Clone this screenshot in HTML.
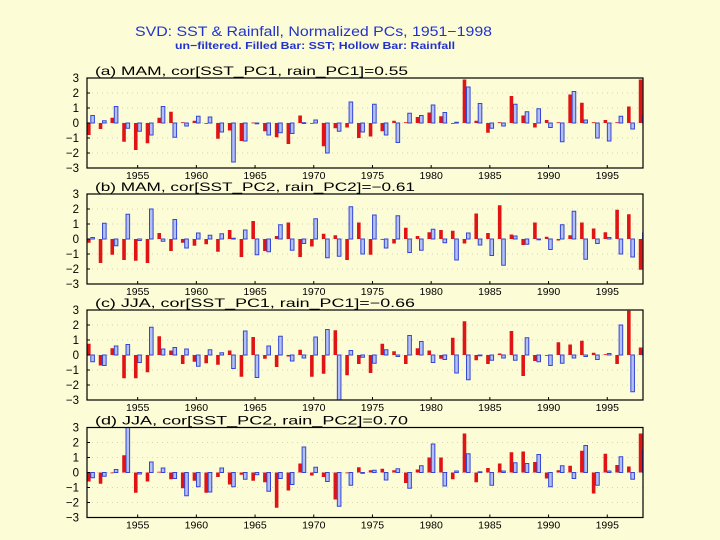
<!DOCTYPE html>
<html><head><meta charset="utf-8"><style>
html,body{margin:0;padding:0;background:#fcfcd6;}
svg{display:block;font-family:"Liberation Sans",sans-serif;}
</style></head><body>
<svg id="chart" width="720" height="540" viewBox="0 0 720 540">
<rect x="0" y="0" width="720" height="540" fill="#fcfcd6"/>
<text x="135" y="36" font-size="13.5" fill="#2233cc" textLength="357" lengthAdjust="spacingAndGlyphs">SVD: SST &amp; Rainfall, Normalized PCs, 1951−1998</text>
<text x="175" y="49" font-size="10.5" font-weight="bold" fill="#2233cc" textLength="280" lengthAdjust="spacingAndGlyphs">un−filtered. Filled Bar: SST; Hollow Bar: Rainfall</text>
<g id="panels"></g>
</svg>
<script>
const years = [];
for (let y = 1951; y <= 1998; y++) years.push(y);
const xTicks = [1955,1960,1965,1970,1975,1980,1985,1990,1995];
const yTicks = [-3,-2,-1,0,1,2,3];
const titles = [
 "(a) MAM, cor[SST_PC1, rain_PC1]=0.55",
 "(b) MAM, cor[SST_PC2, rain_PC2]=−0.61",
 "(c) JJA, cor[SST_PC1, rain_PC1]=−0.66",
 "(d) JJA, cor[SST_PC2, rain_PC2]=0.70"
];
const sstA = [-0.8,-0.4,0.35,-1.25,-1.8,-1.35,0.35,0.75,0.05,0.15,0.0,-1.05,-0.5,-1.2,0.03,-0.55,-0.95,-1.4,0.5,-0.05,-1.55,-0.35,-0.3,-1.0,-0.9,-0.55,0.15,0.05,0.4,0.7,0.45,0.0,2.9,0.15,-0.65,0.05,1.8,0.5,-0.3,0.2,0.05,1.9,1.35,0.05,0.2,0.05,1.1,2.9];
const rainA = [0.5,0.15,1.1,-0.35,-0.55,-0.8,1.1,-0.95,-0.2,0.45,0.4,-0.6,-2.6,-1.2,-0.02,-0.8,-0.65,-0.7,0.02,0.2,-2.0,-0.55,1.4,-0.6,1.25,-0.8,-1.3,0.65,0.5,1.2,0.7,0.05,2.4,1.3,-0.35,-0.2,1.25,0.75,0.95,-0.3,-1.25,2.1,0.2,-1.0,-1.2,0.45,-0.4,0.5];
const sstB = [-0.25,-1.6,-1.05,-1.4,-1.45,-1.6,0.4,-0.8,-0.25,-0.45,-0.35,-0.85,0.6,-1.2,1.2,-0.8,0.2,1.1,-1.2,-0.5,0.35,0.25,-1.4,1.1,-1.05,0.0,-0.3,0.75,0.2,0.45,0.6,0.55,-0.3,1.7,0.4,2.25,0.3,-0.4,1.1,0.15,-0.1,0.25,1.1,0.7,0.45,1.95,1.65,-2.05];
const rainB = [0.1,1.05,-0.45,1.65,-0.1,2.0,-0.15,1.3,-0.6,0.4,0.25,0.35,0.05,0.6,-1.05,-0.85,0.95,-0.75,-0.3,1.35,-1.25,-1.15,2.15,-1.0,1.6,-0.6,1.55,-0.9,-0.75,0.65,-0.25,-1.4,0.4,-0.4,-1.1,-1.75,0.2,-0.35,0.0,-0.7,0.95,1.85,-1.35,-0.3,0.1,-1.0,-1.2,0.4];
const sstC = [0.75,-0.7,0.45,-1.55,-1.55,-1.15,1.25,0.3,-0.6,-0.45,-0.55,-0.65,0.3,-1.45,1.2,-0.25,-0.8,-0.1,0.35,-1.45,-1.25,1.65,-1.35,-0.6,-1.2,0.75,0.25,-0.6,0.45,0.3,-0.25,1.15,2.25,-0.35,-0.6,0.1,1.6,-1.4,-0.4,0.0,0.85,0.7,0.95,0.15,0.05,-0.6,2.95,0.5];
const rainC = [-0.45,-0.7,0.6,0.7,-0.5,1.85,0.4,0.5,0.4,-0.75,0.35,0.15,-0.9,1.6,-1.5,0.6,1.25,-0.4,-0.2,1.2,1.7,-3.0,0.3,-0.15,-0.55,0.35,-0.1,1.3,0.9,-0.5,-0.3,-1.2,-1.65,-0.05,-0.35,-0.2,-0.35,1.15,-0.45,-0.7,-0.55,-0.2,-0.1,-0.3,0.1,2.0,-2.45,0.3];
const sstD = [-0.6,-0.75,0.0,1.15,-1.35,-0.6,0.05,-0.45,-1.05,-0.55,-1.35,-0.3,-0.8,-0.15,-0.55,-0.65,-2.35,-1.2,0.6,-0.2,-0.3,-1.8,-0.05,0.35,0.15,0.25,0.15,-0.7,0.2,1.0,1.0,-0.45,2.6,-0.65,0.3,0.6,1.35,1.4,0.7,-0.4,0.15,0.45,1.45,-1.4,1.25,0.5,0.4,2.6];
const rainD = [-0.35,-0.25,0.2,3.0,-0.1,0.7,0.3,-0.4,-1.55,-0.95,-1.3,0.3,-0.95,-0.45,-0.15,-1.25,-0.4,-0.8,1.7,0.35,-0.6,-2.25,-0.85,0.0,0.15,-0.5,0.25,-1.05,0.45,1.9,-0.9,0.1,1.25,0.05,-0.85,0.1,0.65,0.6,1.2,-0.95,0.45,-0.4,1.8,-0.85,0.1,1.05,-0.45,1.5];
const sstSeries = [sstA, sstB, sstC, sstD];
const rainSeries = [rainA, rainB, rainC, rainD];

const NS = "http://www.w3.org/2000/svg";
const root = document.getElementById("panels");
const plotL = 87, plotR = 643, plotH = 90;
const panelTops = [78, 194, 310, 427.5];
const letters = ["a","b","c","d"];
function xScale(yr){ return plotL + (yr - 1951) * 11.74; }
function mk(tag, attrs, parent){
  const e = document.createElementNS(NS, tag);
  for (const k in attrs) e.setAttribute(k, attrs[k]);
  parent.appendChild(e);
  return e;
}
panelTops.forEach((top, p) => {
  const yScale = v => top + plotH/2 - v * (plotH/6);
  const g = mk("g", {}, root);
  
  
  const clipId = "clip" + p;
  const cp = mk("clipPath", {id: clipId}, g);
  mk("rect", {x: plotL, y: top, width: plotR - plotL, height: plotH}, cp);
  // grid
  yTicks.forEach(t => {
    if (t === -3 || t === 3) return;
    const gl = mk("line", {x1: plotL, x2: plotR, y1: yScale(t), y2: yScale(t), stroke: "#c8c8b0", "stroke-width": 0.8, "stroke-dasharray": "1,4"}, g);
    
    
  });
  // bars
  const bars = mk("g", {"clip-path": "url(#" + clipId + ")"}, g);
  years.forEach((yr, i) => {
    const x = xScale(yr);
    const s = sstSeries[p][i];
    const r = rainSeries[p][i];
    const rb = mk("rect", {x: x, y: Math.min(yScale(0), yScale(s)), width: 3.6, height: Math.max(0.8, Math.abs(yScale(s) - yScale(0))), fill: "#e01414"}, bars);
    
    
    const bb = mk("rect", {x: x + 3.8, y: Math.min(yScale(0), yScale(r)), width: 3.6, height: Math.max(0.8, Math.abs(yScale(r) - yScale(0))), fill: "#b4c0f2", stroke: "#3346d6", "stroke-width": 1}, bars);
    
    
  });
  // frame
  const fr = mk("rect", {x: plotL, y: top, width: plotR - plotL, height: plotH, fill: "none", stroke: "#000", "stroke-width": 1.2}, g);
  
  
  // y ticks
  yTicks.forEach(t => {
    mk("line", {x1: plotL, x2: plotL + 3, y1: yScale(t), y2: yScale(t), stroke: "#000"}, g);
    const lab = mk("text", {x: 79, y: yScale(t) + 4, "font-size": 11.5, "text-anchor": "end", fill: "#000"}, g);
    lab.textContent = t < 0 ? "−" + Math.abs(t) : String(t);
    
    
  });
  // x ticks
  xTicks.forEach(t => {
    const x = xScale(t) + 3.7;
    mk("line", {x1: x, x2: x, y1: top + plotH, y2: top + plotH - 3, stroke: "#000"}, g);
    const lab = mk("text", {x: x, y: top + plotH + 11, "font-size": 10.5, "text-anchor": "middle", fill: "#000"}, g);
    lab.textContent = String(t);
    
    
  });
  const tt = mk("text", {x: 95, y: top - 3, "font-size": 12, fill: "#000", textLength: p === 1 || p === 2 ? 320 : 313, lengthAdjust: "spacingAndGlyphs"}, g);
  tt.textContent = titles[p];
  
  
});
</script>
</body></html>
